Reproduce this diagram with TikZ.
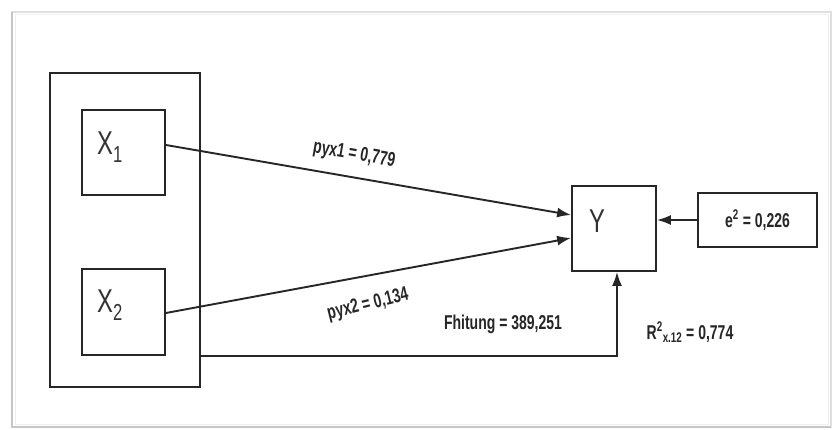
\documentclass[tikz,border=0pt]{standalone}
\usepackage{fontspec}
\setmainfont{Liberation Sans}
\newfontfamily\narrowfont{Liberation Sans}[FakeStretch=0.7]
\newfontfamily\varfont{Liberation Sans}[FakeStretch=0.72]
\usetikzlibrary{arrows.meta,calc}
\begin{document}
\begin{tikzpicture}[x=1pt,y=-1pt,
  box/.style={draw=black!85,line width=1.8pt,inner sep=0pt},
  conn/.style={draw=black!85,line width=1.9pt,-{Latex[length=14pt,width=10pt]}},
  lbl/.style={font=\narrowfont\bfseries\fontsize{20}{22}\selectfont,inner sep=0pt,text=black!85},
  var/.style={font=\varfont\fontsize{33}{36}\selectfont,inner sep=0pt,text=black!80}]
\useasboundingbox (0,0) rectangle (837,430);
\fill[white] (0,0) rectangle (837,430);
% outer frame
\draw[gray!25,line width=2.5pt] (12,12) rectangle (831,427);
\draw[gray!45,line width=2.5pt] (12,12) -- (12,427) -- (831,427);
\draw[gray!12,line width=1pt] (15,15) rectangle (828,424);
% boxes
\node[box,minimum width=150pt,minimum height=314pt] (outer) at (125,230) {};
\node[box,minimum width=83pt,minimum height=85pt] (X1) at (123.5,152.5) {};
\node[box,minimum width=83pt,minimum height=86pt] (X2) at (123.5,312) {};
\node[box,minimum width=84pt,minimum height=85pt] (Y) at (614,228.5) {};
\node[box,minimum width=119pt,minimum height=54pt,lbl] (E) at (757.5,220) {e\textsuperscript{2} = 0,226};
% variable texts
\node[var,anchor=west] (tX1) at (97,147) {X\textsubscript{1}};
\node[var,anchor=west] (tX2) at (97,305) {X\textsubscript{2}};
\node[var] (tY) at (597,221) {Y};
% connectors
\draw[conn] ($(X1.east)+(0,-7.5)$) -- ($(Y.west)+(0,-13.5)$);
\draw[conn] ($(X2.east)+(0,1)$) -- ($(Y.west)+(0,9.5)$);
\draw[conn] (E.west) -- (E.west -| Y.east);
\coordinate (b1) at (outer.east |- X2.south);
\coordinate (b2) at ($(Y.south)+(3,0)$);
\draw[conn] (b1) -| (b2);
% labels
\node[lbl,rotate=-10] (l1) at (354,155) {pyx1 = 0,779};
\node[lbl,rotate=14] (l2) at (368,305) {pyx2 = 0,134};
\node[lbl] (l3) at (503,324) {Fhitung = 389,251};
\node[lbl] (l4) at (690,332) {R\textsuperscript{2}\textsubscript{x.12} = 0,774};
\end{tikzpicture}
\end{document}
